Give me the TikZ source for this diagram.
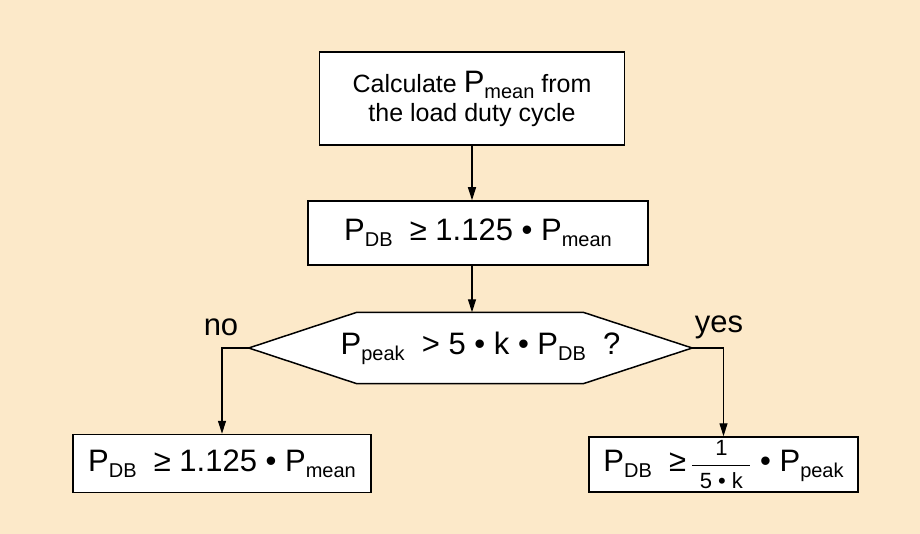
\documentclass[tikz,border=0pt]{standalone}
\usepackage{amsmath}
\usepackage{fontspec}
\setmainfont{Liberation Sans}
\usepackage{xcolor}
\usetikzlibrary{arrows.meta, positioning, backgrounds}

\definecolor{bgpeach}{RGB}{252,233,201}
\newcommand{\psub}[1]{\raisebox{-6pt}{\fontsize{20}{22}\selectfont #1}}
\newcommand{\fracpart}[1]{\text{\fontsize{22}{24}\selectfont #1}}

\begin{document}
\begin{tikzpicture}[x=1pt, y=-1pt,
        box/.style={rectangle, draw, fill=white, line width=1.5pt, align=center, inner sep=0pt, font=\fontsize{31}{36}\selectfont},
        hexbox/.style={rectangle, inner sep=0pt, font=\fontsize{31}{36}\selectfont},
        hexline/.style={draw, fill=white, line width=1.5pt, line join=miter},
        arrow/.style={-{Triangle[length=13pt, width=8pt]}, line width=1.2pt},
        lbl/.style={font=\fontsize{31}{36}\selectfont, inner sep=0pt}
    ]
        % Boxes
        \node[box, minimum width=305pt, minimum height=93pt, font=\fontsize{25}{29}\selectfont] (calc) at (472,98.5)
            {Calculate {\fontsize{31}{29}\selectfont P\psub{mean}} from\\the load duty cycle};
        \node[box, minimum width=340pt, minimum height=64pt] (req) at (478,233)
            {P\psub{DB}\ \ ≥ 1.125 • P\psub{mean}};

        % Decision
        \node[hexbox, minimum width=443pt, minimum height=71pt] (dec) at (470.5,348)
            {\hspace{20pt}P\psub{peak}\ \ > 5 • k • P\psub{DB}\ \ ?};

        % Results
        \node[box, minimum width=298pt, minimum height=58pt] (low) at (222,463.5)
            {P\psub{DB}\ \ ≥ 1.125 • P\psub{mean}};
        \node[box, minimum width=269pt, minimum height=55pt] (high) at (723.5,464.5)
            {P\psub{DB}\ \ ≥\,$\dfrac{\fracpart{\,1\,}}{\fracpart{\,\,5 • k\,\,}}$ • P\psub{peak}};

        % Labels
        \node[lbl] (nolbl) at (221,327) {no};
        \node[lbl] (yeslbl) at (719,327) {yes};

        % Background and hexagon outline
        \begin{scope}[on background layer]
            \fill[bgpeach] (0,0) rectangle (920,534);
            \draw[hexline] (dec.west) -- ([xshift=108pt]dec.north west) -- ([xshift=-109pt]dec.north east)
                -- (dec.east) -- ([xshift=-109pt]dec.south east) -- ([xshift=108pt]dec.south west) -- cycle;
        \end{scope}
        \useasboundingbox (0,0) rectangle (920,534);

        % Connections
        \draw[arrow] (calc.south) -- (calc.south |- req.north);
        \draw[arrow] (calc.south |- req.south) -- (calc.south |- dec.north);
        \draw[arrow] (dec.west) -| (low.north);
        \draw[arrow] (dec.east) -| (high.north);
    \end{tikzpicture}
\end{document}
